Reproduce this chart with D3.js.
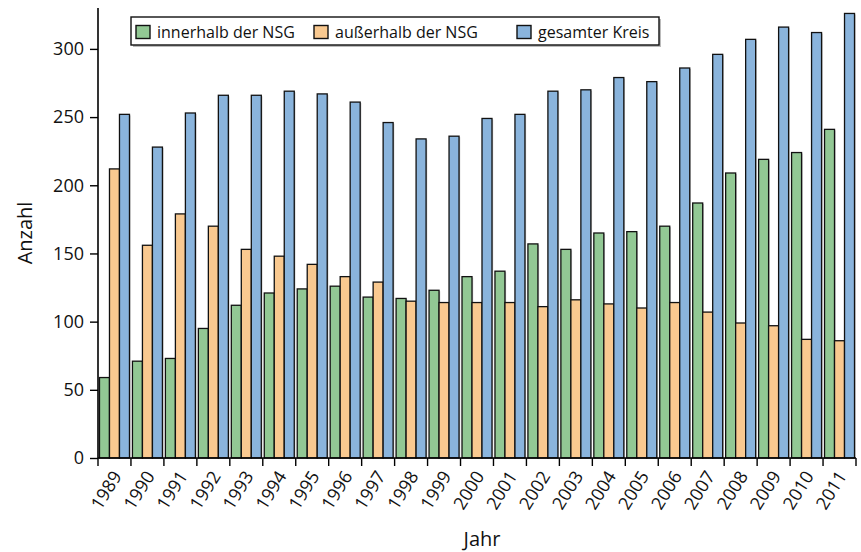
<!DOCTYPE html>
<html><head><meta charset="utf-8">
<script src="https://cdn.jsdelivr.net/npm/d3@7"></script>
<style>body{margin:0;background:#fff}svg{display:block;font-family:"Open Sans",sans-serif}</style>
</head><body>
<script>
const years = ["1989","1990","1991","1992","1993","1994","1995","1996","1997","1998","1999","2000","2001","2002","2003","2004","2005","2006","2007","2008","2009","2010","2011"];
const innerhalb = [59,71,73,95,112,121,124,126,118,117,123,133,137,157,153,165,166,170,187,209,219,224,241];
const ausserhalb = [212,156,179,170,153,148,142,133,129,115,114,114,114,111,116,113,110,114,107,99,97,87,86];
const gesamt = [252,228,253,266,266,269,267,261,246,234,236,249,252,269,270,279,276,286,296,307,316,312,326];
const seriesNames = ["innerhalb der NSG","außerhalb der NSG","gesamter Kreis"];
const seriesColors = ["#92c894","#f9c990","#8ab4dc"];
const yTicks = [0,50,100,150,200,250,300];

const W=861,H=552;
const m={left:98,right:5,top:8,bottom:94};
const svg=d3.select("body").append("svg").attr("width",W).attr("height",H);
const x0=d3.scaleBand().domain(years).range([m.left,W-m.right]).paddingInner(0.09).paddingOuter(0.045);
const xb=d3.scaleBand().domain(years).range([m.left,W-m.right]);
const x1=d3.scaleBand().domain([0,1,2]).range([0,x0.bandwidth()]);
const y=d3.scaleLinear().domain([0,330]).range([H-m.bottom,m.top]);
const data=[innerhalb,ausserhalb,gesamt];

const g=svg.append("g");
years.forEach((yr,i)=>{
  data.forEach((s,k)=>{
    const bx=x0(yr)+x1(k), bw=x1.bandwidth();
    g.append("rect").attr("x",bx+1.2).attr("y",y(s[i])+1).attr("width",bw).attr("height",y(0)-y(s[i])-1)
      .attr("fill","#c8c8c8");
    g.append("rect").attr("x",bx).attr("y",y(s[i])).attr("width",bw).attr("height",y(0)-y(s[i]))
      .attr("fill",seriesColors[k]).attr("stroke","#111").attr("stroke-width",1.3);
  });
});

// axes
const ya=svg.append("g").attr("transform",`translate(${m.left},0)`)
  .call(d3.axisLeft(y).tickValues(yTicks).tickSize(8).tickPadding(6).tickSizeOuter(0));
ya.select(".domain").attr("d",`M0,${y(0)}V${m.top}`).attr("stroke","#000").attr("stroke-width",1.6);
ya.selectAll(".tick line").attr("stroke","#000").attr("stroke-width",1.4);
ya.selectAll("text").attr("font-size",18).attr("fill","#111").attr("font-family","Open Sans");

const xa=svg.append("g").attr("transform",`translate(0,${y(0)})`);
xa.append("line").attr("x1",m.left).attr("x2",W-m.right).attr("stroke","#000").attr("stroke-width",1.6);
const bounds=years.map(yr=>xb(yr)).concat([xb(years[years.length-1])+xb.bandwidth()]);
xa.selectAll("line.tk").data(bounds).enter().append("line").attr("class","tk")
  .attr("x1",d=>d).attr("x2",d=>d).attr("y1",0).attr("y2",8).attr("stroke","#000").attr("stroke-width",1.4);
xa.selectAll("text").data(years).enter().append("text")
  .attr("transform",d=>`translate(${xb(d)+xb.bandwidth()/2+8},${18}) rotate(-58)`)
  .attr("text-anchor","end").attr("font-size",18).attr("fill","#111").text(d=>d);

svg.append("text").attr("transform",`translate(32,${(y(0)+m.top)/2}) rotate(-90)`)
  .attr("text-anchor","middle").attr("font-size",20).attr("fill","#111").text("Anzahl");
svg.append("text").attr("x",482).attr("y",546).attr("text-anchor","middle")
  .attr("font-size",20).attr("fill","#111").text("Jahr");

// legend
const lg=svg.append("g");
lg.append("rect").attr("x",133).attr("y",19).attr("width",528).attr("height",28).attr("fill","#bbb");
lg.append("rect").attr("x",131).attr("y",17).attr("width",528).attr("height",28).attr("fill","#fff").attr("stroke","#111").attr("stroke-width",1.4);
const lx=[136,314,517];
seriesNames.forEach((n,k)=>{
  lg.append("rect").attr("x",lx[k]).attr("y",25.5).attr("width",14).attr("height",13)
    .attr("fill",seriesColors[k]).attr("stroke","#111").attr("stroke-width",1.4);
  lg.append("text").attr("x",lx[k]+21).attr("y",38).attr("font-size",16).attr("fill","#111").text(n);
});
</script>
</body></html>
